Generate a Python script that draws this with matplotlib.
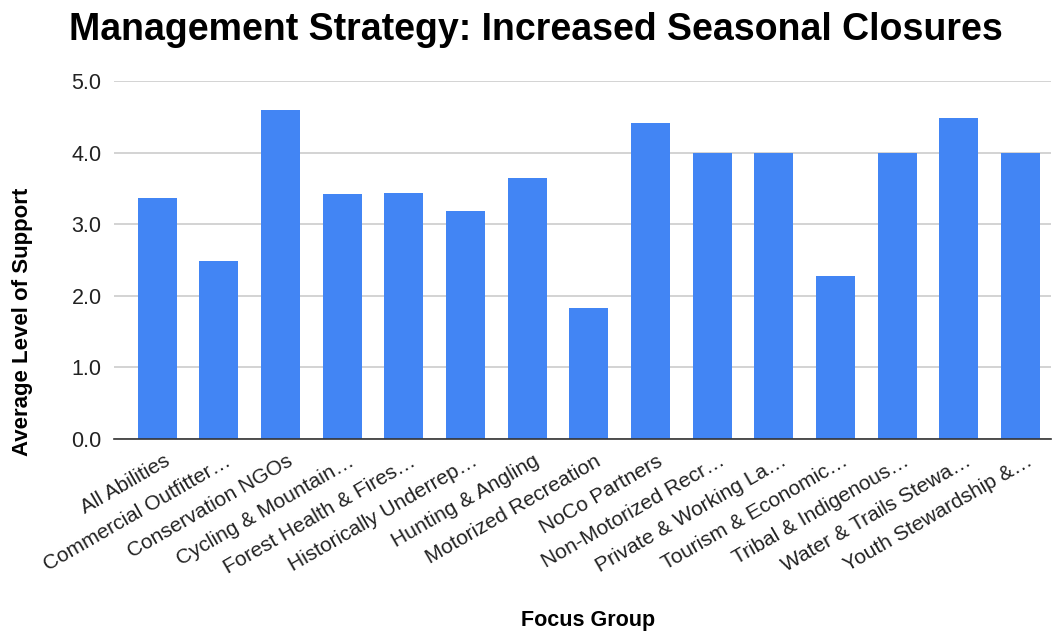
import matplotlib.pyplot as plt
import matplotlib.transforms as mtransforms
import numpy as np

plt.rcParams['font.family'] = ['Liberation Sans', 'DejaVu Sans']

groups = [
    'All Abilities', 'Commercial Outfitter…', 'Conservation NGOs',
    'Cycling & Mountain…', 'Forest Health & Fires…', 'Historically Underrep…',
    'Hunting & Angling', 'Motorized Recreation', 'NoCo Partners',
    'Non-Motorized Recr…', 'Private & Working La…', 'Tourism & Economic…',
    'Tribal & Indigenous…', 'Water & Trails Stewa…', 'Youth Stewardship &…',
]
support = [3.37, 2.48, 4.59, 3.42, 3.44, 3.18, 3.65, 1.83, 4.41,
           4.0, 4.0, 2.27, 4.0, 4.49, 4.0]
y_ticks = [0, 1, 2, 3, 4, 5]

fig = plt.figure(figsize=(10.52, 6.33), dpi=100)
ax = fig.add_axes([0.1084, 0.3065, 0.891, 0.5655])

x = np.arange(len(groups))
ax.bar(x, support, width=0.63, color='#4285F4', zorder=3)

ax.set_xlim(-0.7, 14.5)
ax.set_ylim(0, 5)
ax.set_yticks(y_ticks)
ax.set_yticklabels([f'{v:.1f}' for v in y_ticks], fontsize=15.5, color='#222222')
ax.set_xticks(x)
ax.set_xticklabels(groups, rotation=30, ha='right', rotation_mode='anchor',
                   fontsize=15, color='#222222')
ax.tick_params(axis='both', length=0)
ax.tick_params(axis='x', pad=9)
ax.tick_params(axis='y', pad=9)

# nudge the slanted labels a little to the right, like the original
offset = mtransforms.ScaledTranslation(6 / 100, 0, fig.dpi_scale_trans)
for lbl in ax.get_xticklabels():
    lbl.set_transform(lbl.get_transform() + offset)

ax.grid(axis='y', color='#cccccc', linewidth=1.2, zorder=0)
for side in ['top', 'right', 'left']:
    ax.spines[side].set_visible(False)
ax.spines['bottom'].set_color('#333333')
ax.spines['bottom'].set_linewidth(1.2)
ax.spines['bottom'].set_zorder(4)

fig.text(0.021, 0.491, 'Average Level of Support', rotation=90, ha='center',
         va='center', fontsize=16, fontweight='bold')
fig.text(0.559, 0.0205, 'Focus Group', ha='center', va='center',
         fontsize=15.5, fontweight='bold')
fig.text(0.509, 0.953, 'Management Strategy: Increased Seasonal Closures',
         ha='center', va='center', fontsize=27, fontweight='bold')

fig.savefig('out.png', dpi=100)
